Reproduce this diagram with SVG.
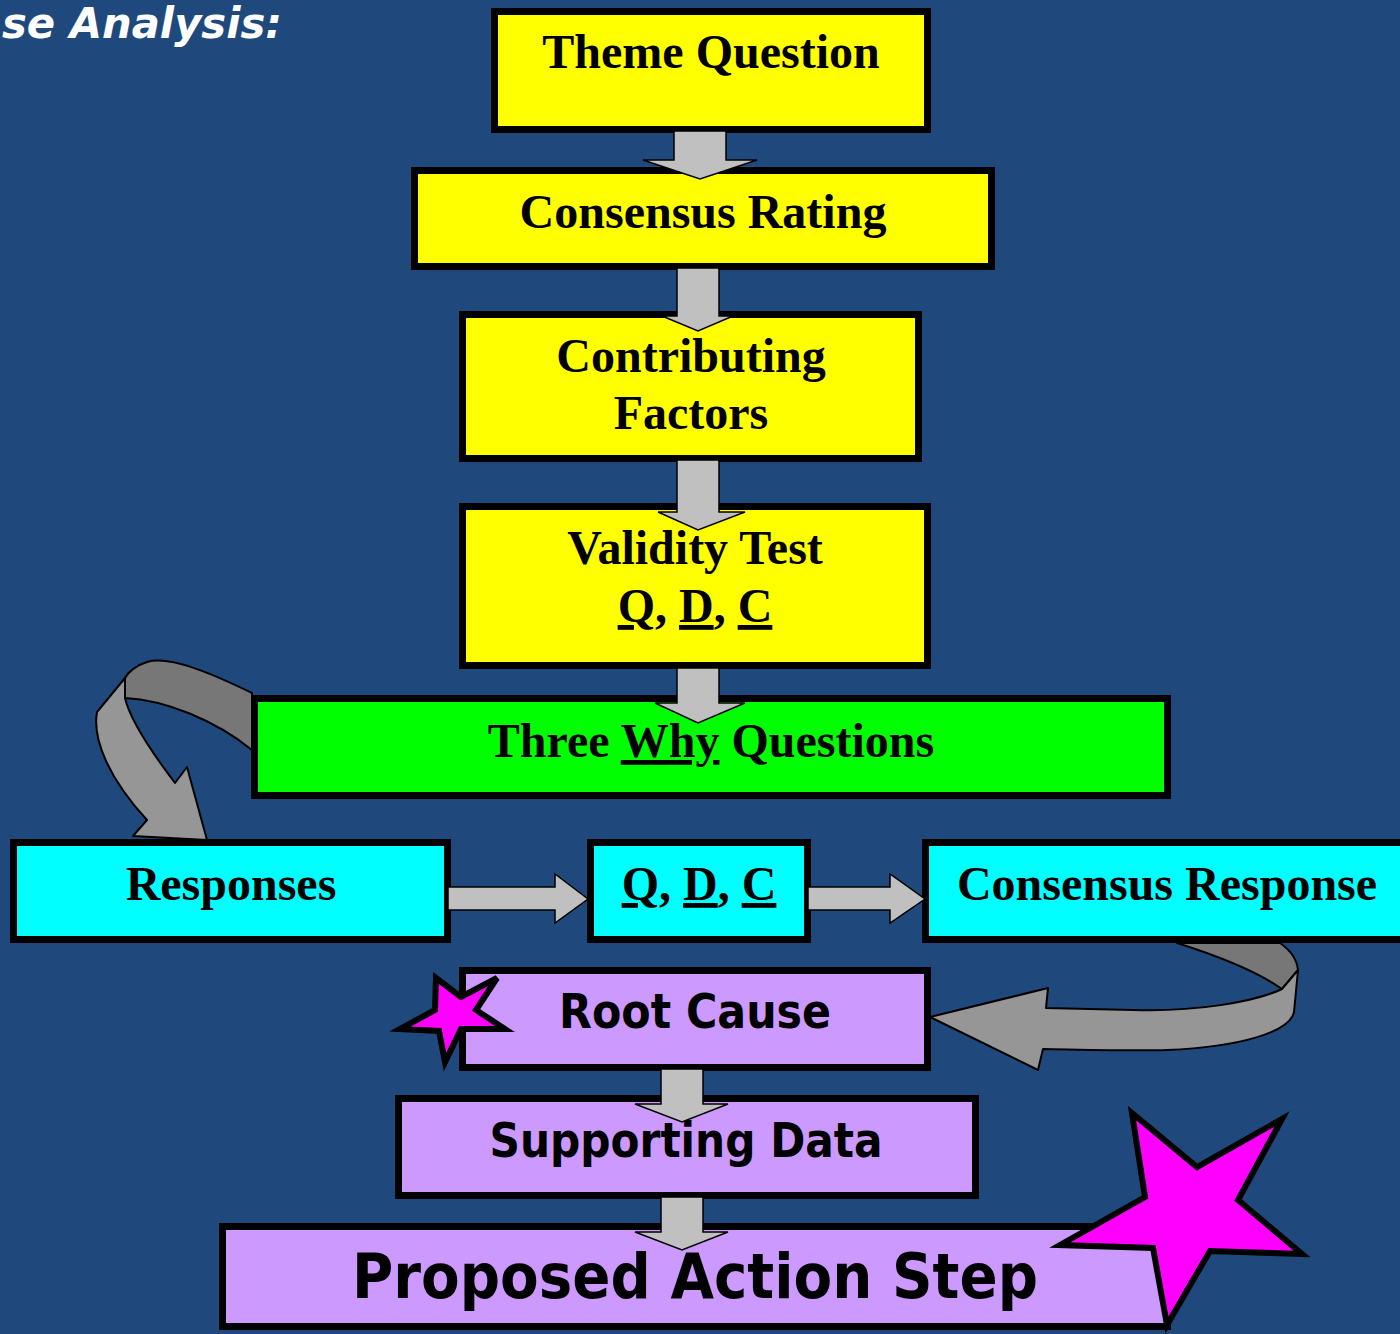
<svg xmlns="http://www.w3.org/2000/svg" width="1400" height="1334" viewBox="0 0 1400 1334">
<style>
.box{stroke:#000;stroke-width:7}
.y{fill:#FFFF00}.g{fill:#00FF00}.c{fill:#00FFFF}.p{fill:#CC99FF}
.serif{font-family:"Liberation Serif","Times New Roman",serif;font-weight:bold;font-size:48px;fill:#000}
.sans{font-family:"DejaVu Sans",Verdana,sans-serif;font-weight:bold;fill:#000}
.arr{fill:#C0C0C0;stroke:#000;stroke-width:1.5;stroke-linejoin:miter}
.rib{stroke:#000;stroke-width:2;stroke-linejoin:round}
.back{fill:#777777}.front{fill:#969696}
.star{fill:#FF00FF;stroke:#000;stroke-width:6;stroke-linejoin:miter}
.u{text-decoration:underline}
</style>
<rect x="0" y="0" width="1400" height="1334" fill="#1F497D"/>
<text x="2" y="38" font-family="'DejaVu Sans',Verdana,sans-serif" font-weight="bold" font-style="italic" font-size="42" fill="#FFFFFF" textLength="280" lengthAdjust="spacingAndGlyphs">se Analysis:</text>

<g id="connectors">
  <g id="curve-left">
    <path class="rib back" d="M252,693 C215,675 170,655 147,662 C137,665 128,672 125,678 L125,698 C165,700 215,720 252,750 Z"/>
    <path class="rib front" d="M125,678 L97,712 C92,740 110,780 147,820 L133,836 L207,840 L187,767 L175,783 C150,750 130,720 125,698 Z"/>
  </g>
  <g id="curve-right">
    <path class="rib back" d="M1177,943 C1215,955 1255,970 1282,989 L1298,970 C1297,960 1290,950 1280,943 Z"/>
    <path class="rib front" d="M1282,989 C1255,1002 1195,1012 1133,1010 L1046,1008 L1048,988 L930,1017 L1038,1070 L1043,1049 C1100,1050 1140,1051 1167,1050 C1240,1047 1290,1032 1294,1012 L1298,970 Z"/>
  </g>
</g>

<g id="n1"><rect class="box y" x="494.5" y="11.5" width="433" height="118"/>
<text class="serif" x="711" y="68" text-anchor="middle">Theme Question</text></g>
<g id="n2"><rect class="box y" x="414.5" y="170.5" width="577" height="96"/>
<text class="serif" x="703" y="228" text-anchor="middle">Consensus Rating</text></g>
<g id="n3"><rect class="box y" x="462.5" y="314.5" width="456" height="144"/>
<text class="serif" x="691" y="372" text-anchor="middle">Contributing</text>
<text class="serif" x="691" y="429" text-anchor="middle">Factors</text></g>
<g id="n4"><rect class="box y" x="462.5" y="506.5" width="465" height="159"/>
<text class="serif" x="695" y="564" text-anchor="middle">Validity Test</text>
<text class="serif" x="695" y="622" text-anchor="middle"><tspan class="u">Q</tspan>, <tspan class="u">D</tspan>, <tspan class="u">C</tspan></text></g>
<g id="n5"><rect class="box g" x="254.5" y="698.5" width="913" height="97"/>
<text class="serif" x="711" y="757" text-anchor="middle">Three <tspan class="u">Why</tspan> Questions</text></g>
<g id="n6"><rect class="box c" x="13.5" y="842.5" width="434" height="97"/>
<text class="serif" x="231" y="900" text-anchor="middle">Responses</text></g>
<g id="n7"><rect class="box c" x="590.5" y="842.5" width="217" height="97"/>
<text class="serif" x="699" y="900" text-anchor="middle"><tspan class="u">Q</tspan>, <tspan class="u">D</tspan>, <tspan class="u">C</tspan></text></g>
<g id="n8"><rect class="box c" x="925.5" y="842.5" width="500" height="97"/>
<text class="serif" x="1167" y="900" text-anchor="middle">Consensus Response</text></g>
<g id="n9"><rect class="box p" x="462.5" y="970.5" width="465" height="97"/>
<text class="sans" x="695" y="1028" text-anchor="middle" font-size="48" textLength="272" lengthAdjust="spacingAndGlyphs">Root Cause</text></g>
<g id="n10"><rect class="box p" x="398.5" y="1098.5" width="577" height="97"/>
<text class="sans" x="686" y="1157" text-anchor="middle" font-size="48" textLength="393" lengthAdjust="spacingAndGlyphs">Supporting Data</text></g>
<g id="n11"><rect class="box p" x="222.5" y="1226.5" width="945" height="100"/>
<text class="sans" x="695" y="1298" text-anchor="middle" font-size="62" textLength="686" lengthAdjust="spacingAndGlyphs">Proposed Action Step</text></g>

<g id="arrows">
  <polygon class="arr" points="674,131 726,131 726,160 757,160 700,179 643,160 674,160"/>
  <polygon class="arr" points="677,268 719,268 719,316 733,316 698,331 662,316 677,316"/>
  <polygon class="arr" points="677,460 719,460 719,512 745,512 698,530 658,512 677,512"/>
  <polygon class="arr" points="677,668 719,668 719,703 745,703 698,723 655,703 677,703"/>
  <polygon class="arr" points="448,887 555,887 555,874 588,899 555,923 555,910 448,910"/>
  <polygon class="arr" points="808,887 890,887 890,874 925,899 890,923 890,910 808,910"/>
  <polygon class="arr" points="661,1069 703,1069 703,1104 728,1104 682,1122 635,1104 661,1104"/>
  <polygon class="arr" points="661,1197 703,1197 703,1232 728,1232 682,1250 635,1232 661,1232"/>
</g>

<g id="star-small"><polygon class="star" points="436,978 461,997 497,978 476,1010 505,1029 461,1029 445,1062 439,1031 400,1029 435,1010"/></g>
<g id="star-big"><polygon class="star" points="1132,1113 1197,1167 1282,1119 1238,1200 1302,1254 1210,1251 1167,1325 1153,1248 1060,1245 1145,1197"/></g>
</svg>
